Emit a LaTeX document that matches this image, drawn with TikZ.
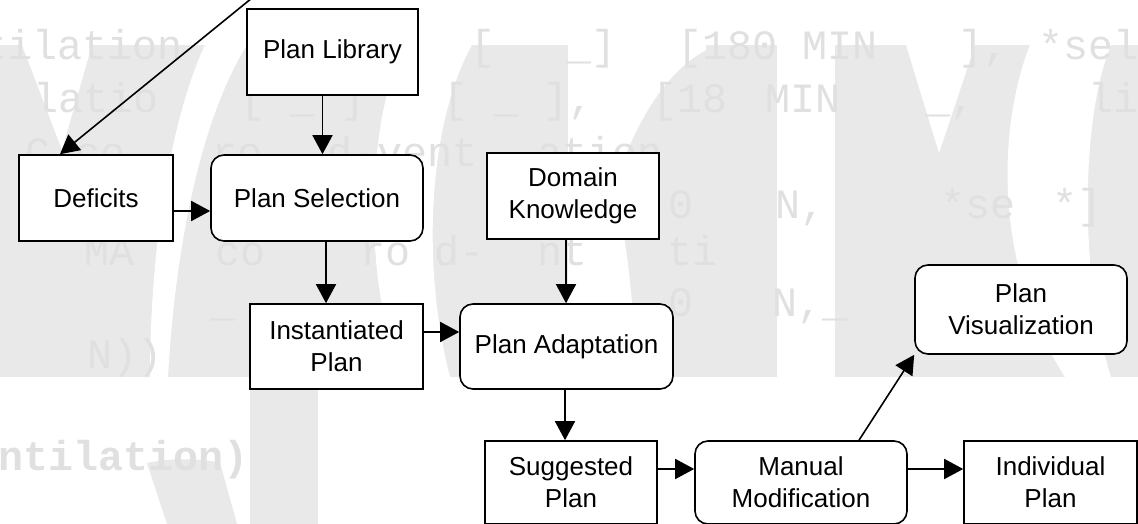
\documentclass[tikz,border=0pt]{standalone}
\usepackage{fontspec}
\setmainfont{Liberation Sans}
\newfontfamily\wmfont{Liberation Mono}
\usetikzlibrary{arrows.meta,calc}
\definecolor{wmgray}{HTML}{E9E9E9}
\definecolor{wmtext}{HTML}{E0E0E0}
\begin{document}
\begin{tikzpicture}[x=1pt,y=-1pt,
  box/.style={draw=black, line width=1.6pt, fill=white, minimum width=#1,
    minimum height=86pt, inner sep=0pt, align=center,
    font=\fontsize{26}{32}\selectfont},
  rbox/.style={box=#1, rounded corners=13pt},
  arr/.style={line width=1.6pt, -{Triangle[length=19pt,width=20pt]}},
  wm/.style={fill=wmgray, draw=none},
  wmw/.style={fill=white, draw=none},
  code/.style={anchor=base west, inner sep=0pt, text=wmtext,
    font=\wmfont\fontsize{41.7}{41.7}\selectfont}]
\useasboundingbox (0,0) rectangle (1138,524);
\fill[white] (0,0) rectangle (1138,524);

% background lettering
\fill[wm] (0,45) rectangle (1138,377);
\fill[wm] (250,377) rectangle (318,524);
\fill[wm] (147,463) .. controls (170,458) and (200,458) .. (220,463) -- (237,524) -- (167,524) -- cycle;
\fill[wmw] (22,45) -- (92,45) -- (62,150) -- cycle;
\fill[wmw] (205,45) .. controls (170,120) and (150,250) .. (150,377) -- (168,377) .. controls (175,250) and (200,120) .. (247,45) -- cycle;
\fill[wmw] (403,45) .. controls (370,120) and (360,260) .. (400,377) -- (450,377) .. controls (420,260) and (430,120) .. (472,45) -- cycle;
\fill[wmw] (612,190) .. controls (640,110) and (670,70) .. (706,50) -- (706,45) -- (568,45) -- (568,377) -- (640,377) .. controls (630,300) and (630,240) .. (612,190) -- cycle;
\fill[wmw] (777,45) rectangle (835,377);
\fill[wmw] (906,45) -- (975,45) -- (939,153) -- cycle;
\fill[wmw] (1030,45) .. controls (1000,120) and (990,260) .. (1065,377) -- (1111,377) .. controls (1080,280) and (1080,120) .. (1111,45) -- cycle;

% code listing behind
\node[code] at (-18,60) {tilation};
\node[code] at (470,60) {[};
\node[code] at (566,60) {\_]};
\node[code] at (677,60) {[180 MIN};
\node[code] at (958,60) {],};
\node[code] at (1038,60) {*sel};
\node[code] at (33,113) {latio};
\node[code] at (240,113) {[ \_ ]};
\node[code] at (443,113) {[ \_  ],};
\node[code] at (652,113) {[18};
\node[code] at (765,113) {MIN};
\node[code] at (925,113) {\_,};
\node[code] at (1088,113) {li};
\node[code] at (25,167) {C};
\node[code] at (75,167) {co};
\node[code] at (212,167) {ro};
\node[code] at (327,167) {d-vent};
\node[code] at (537,167) {ation};
\node[code] at (668,218) {0};
\node[code] at (775,218) {N,};
\node[code] at (940,218) {*se};
\node[code] at (1052,218) {*]};
\node[code] at (84,265) {MA};
\node[code] at (215,265) {co};
\node[code] at (360,265) {ro};
\node[code] at (434,265) {d-};
\node[code] at (537,265) {nt};
\node[code] at (667,265) {ti};
\node[code] at (210,316) {\_};
\node[code] at (668,316) {0};
\node[code] at (772,316) {N,\_};
\node[code] at (87,368) {N))};
\node[code, font=\wmfont\bfseries\fontsize{41.7}{41.7}\selectfont] at (-2,470) {ntilation)};

% process boxes
\node[box=171pt]  (lib)   at (332.5,52)   {Plan Library};
\node[box=154pt]  (def)   at (96,198)     {Deficits};
\node[rbox=212pt] (sel)   at (317,198)    {Plan Selection};
\node[box=172pt]  (dk)    at (573,196)    {Domain\\Knowledge};
\node[box=173pt, minimum height=85pt]  (inst)  at (336.5,346.5) {Instantiated\\Plan};
\node[rbox=213pt, minimum height=85pt] (adapt) at (566.5,346.5) {Plan Adaptation};
\node[rbox=212pt, minimum height=89pt] (vis)   at (1021,309.5)  {Plan\\Visualization};
\node[box=172pt, minimum height=83pt]  (sug)   at (571,482.5)   {Suggested\\Plan};
\node[rbox=212pt, minimum height=83pt] (man)   at (801,482.5)   {Manual\\Modification};
\node[box=173pt, minimum height=83pt]  (ind)   at (1050.5,482.5) {Individual\\Plan};

% connectors
\coordinate (src) at (252,-2);
\draw[arr] (src) -- ($(def.north)+(-36,0)$);
\draw[arr] ($(def.east)+(0,13)$) coordinate (a1) -- (a1 -| sel.west);
\draw[arr] ($(lib.south)+(-10,0)$) coordinate (a2) -- (a2 |- sel.north);
\draw[arr] ($(sel.south)+(9,0)$) coordinate (a3) -- (a3 |- inst.north);
\draw[arr] ($(dk.south)+(-7,0)$) coordinate (a4) -- (a4 |- adapt.north);
\draw[arr] ($(inst.east)+(0,-14.5)$) coordinate (a5) -- (a5 -| adapt.west);
\draw[arr] ($(adapt.south)+(-1.5,0)$) coordinate (a6) -- (a6 |- sug.north);
\draw[arr] ($(sug.east)+(0,-13.5)$) coordinate (a7) -- (a7 -| man.west);
\draw[arr] ($(man.east)+(0,-13.5)$) coordinate (a8) -- (a8 -| ind.west);
\draw[arr] ($(man.north)+(58,0)$) -- (vis.south west);
\end{tikzpicture}
\end{document}
